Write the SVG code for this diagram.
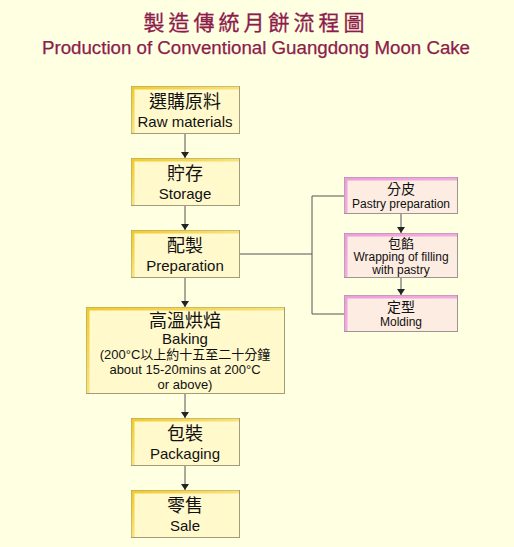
<svg xmlns="http://www.w3.org/2000/svg" width="514" height="547" viewBox="0 0 514 547">
<style>
.title{font-family:"Liberation Sans","Noto Sans CJK TC",sans-serif;fill:#8C1C4C;text-anchor:middle}
.t{font-family:"Liberation Sans","Noto Sans CJK TC",sans-serif;fill:#111;text-anchor:middle}
.zh{font-size:18px}
.en{font-size:15px}
.szh{font-size:14px}
.sm{font-size:12px}
.main{fill:#FFF9CC;stroke:#A39C78;stroke-width:1}
.side{fill:#FDECE2;stroke:#9E9490;stroke-width:1}
.ya{fill:none;stroke:url(#yg);stroke-width:3}
.pa{fill:none;stroke:url(#pg);stroke-width:3}
.line{stroke:#555;stroke-width:1;fill:none}
</style>
<defs>
<linearGradient id="yg" x1="0" y1="0" x2="1" y2="1"><stop offset="0" stop-color="#F2CB2E"/><stop offset="0.5" stop-color="#F8E27A"/><stop offset="1" stop-color="#FBEB9E"/></linearGradient>
<linearGradient id="pg" x1="0" y1="0" x2="1" y2="1"><stop offset="0" stop-color="#EE9EDC"/><stop offset="1" stop-color="#F4B8E6"/></linearGradient>
<marker id="ar" viewBox="0 0 6 8" refX="6" refY="4" markerWidth="6" markerHeight="8" orient="auto" markerUnits="userSpaceOnUse"><path d="M0,0 L6,4 L0,8 Z" fill="#222"/></marker>
</defs>
<rect width="514" height="547" fill="#FFFFE2"/>
<text class="title" x="256" y="30" font-size="21" letter-spacing="4" stroke="#8C1C4C" stroke-width="0.3">製造傳統月餅流程圖</text>
<text class="title" x="256" y="54" font-size="18.7" stroke="#8C1C4C" stroke-width="0.25">Production of Conventional Guangdong Moon Cake</text>

<g id="connectors">
<line class="line" x1="185" y1="133" x2="185" y2="158" marker-end="url(#ar)"/>
<line class="line" x1="185" y1="205" x2="185" y2="230" marker-end="url(#ar)"/>
<line class="line" x1="185" y1="277" x2="185" y2="307" marker-end="url(#ar)"/>
<line class="line" x1="185" y1="393" x2="185" y2="418" marker-end="url(#ar)"/>
<line class="line" x1="185" y1="465" x2="185" y2="490" marker-end="url(#ar)"/>
<polyline class="line" points="239,254 312,254"/>
<polyline class="line" points="344,196 312,196 312,314 344,314"/>
<line class="line" x1="401" y1="213" x2="401" y2="233" marker-end="url(#ar)"/>
<line class="line" x1="401" y1="277" x2="401" y2="295" marker-end="url(#ar)"/>
</g>

<g id="n1">
<rect class="main" x="131.5" y="86.5" width="108" height="47"/>
<path class="ya" d="M133,133 V88 H239"/>
<text class="t zh" x="185" y="108">選購原料</text>
<text class="t en" x="185" y="127">Raw materials</text>
</g>
<g id="n2">
<rect class="main" x="131.5" y="158.5" width="108" height="47"/>
<path class="ya" d="M133,205 V160 H239"/>
<text class="t zh" x="185" y="180">貯存</text>
<text class="t en" x="185" y="199">Storage</text>
</g>
<g id="n3">
<rect class="main" x="131.5" y="230.5" width="108" height="47"/>
<path class="ya" d="M133,277 V232 H239"/>
<text class="t zh" x="185" y="252">配製</text>
<text class="t en" x="185" y="271">Preparation</text>
</g>
<g id="n4">
<rect class="main" x="86.5" y="307.5" width="198" height="86"/>
<path class="ya" d="M88,393 V309 H284"/>
<text class="t zh" x="185" y="327">高溫烘焙</text>
<text class="t en" x="185" y="344">Baking</text>
<text class="t" x="185" y="359" font-size="13">(200°C以上約十五至二十分鐘</text>
<text class="t" x="185" y="374" font-size="13">about 15-20mins at 200°C</text>
<text class="t" x="185" y="389" font-size="13">or above)</text>
</g>
<g id="n5">
<rect class="main" x="131.5" y="418.5" width="108" height="47"/>
<path class="ya" d="M133,465 V420 H239"/>
<text class="t zh" x="185" y="440">包裝</text>
<text class="t en" x="185" y="459">Packaging</text>
</g>
<g id="n6">
<rect class="main" x="131.5" y="490.5" width="108" height="47"/>
<path class="ya" d="M133,537 V492 H239"/>
<text class="t zh" x="185" y="512">零售</text>
<text class="t en" x="185" y="531">Sale</text>
</g>

<g id="s1">
<rect class="side" x="344.5" y="177.5" width="113" height="36"/>
<path class="pa" d="M346,213 V179 H457"/>
<text class="t szh" x="401" y="194">分皮</text>
<text class="t sm" x="401" y="208">Pastry preparation</text>
</g>
<g id="s2">
<rect class="side" x="344.5" y="233.5" width="113" height="44"/>
<path class="pa" d="M346,277 V235 H457"/>
<text class="t" x="401" y="248" font-size="13">包餡</text>
<text class="t sm" x="401" y="261">Wrapping of filling</text>
<text class="t sm" x="401" y="274">with pastry</text>
</g>
<g id="s3">
<rect class="side" x="344.5" y="295.5" width="113" height="36"/>
<path class="pa" d="M346,331 V297 H457"/>
<text class="t szh" x="401" y="312">定型</text>
<text class="t sm" x="401" y="326">Molding</text>
</g>
</svg>
